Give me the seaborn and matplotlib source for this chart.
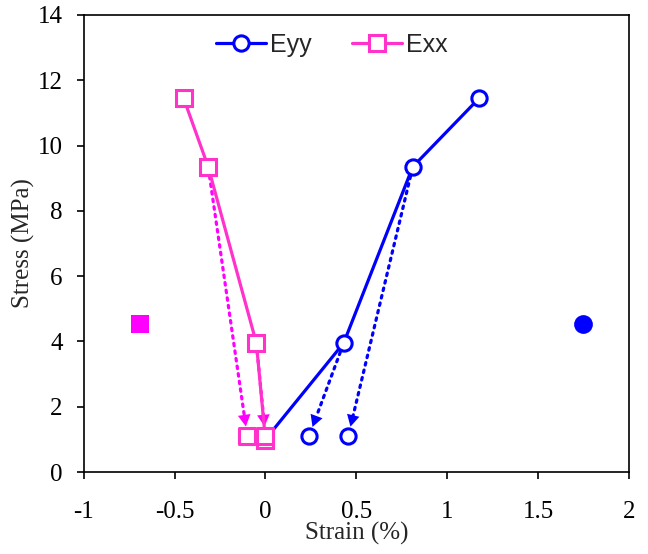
import matplotlib
matplotlib.use("Agg")
import matplotlib.pyplot as plt
import seaborn as sns
import pandas as pd

# loading paths
eyy_strain = [0.0, 0.43, 0.81, 1.175]
eyy_stress = [1.0, 3.95, 9.35, 11.45]
exx_strain = [-0.45, -0.315, -0.05, 0.0]
exx_stress = [11.45, 9.35, 3.95, 0.98]

# unloaded points (dotted arrows go from loaded point to these)
eyy_unload_strain = [0.24, 0.455]
eyy_unload_stress = [1.1, 1.1]
eyy_unload_from = [1, 2]
exx_unload_strain = [-0.10, 0.0]
exx_unload_stress = [1.1, 1.1]
exx_unload_from = [1, 2]

# single filled reference points
eyy_ref = (1.745, 4.52)
exx_ref = (-0.69, 4.52)

x_ticks = [-1, -0.5, 0, 0.5, 1, 1.5, 2]
x_labels = ["-1", "-0.5", "0", "0.5", "1", "1.5", "2"]
y_ticks = [0, 2, 4, 6, 8, 10, 12, 14]

BLUE = "#0000FF"
PINK = "#FF33CC"
MAGENTA = "#FF00FF"

sns.set_theme(style="white")
plt.rcParams["font.family"] = ["Liberation Serif", "DejaVu Serif"]

fig = plt.figure(figsize=(6.48, 5.54), dpi=100)
ax = fig.add_axes([0.129, 0.148, 0.842, 0.825])

eyy = pd.DataFrame({"strain": eyy_strain, "stress": eyy_stress})
exx = pd.DataFrame({"strain": exx_strain, "stress": exx_stress})

sns.lineplot(data=eyy, x="strain", y="stress", sort=False, ax=ax, color=BLUE,
             lw=2.3, marker="o", ms=11, mfc="white", mec=BLUE, mew=2.2,
             label="Eyy", zorder=3)
sns.lineplot(data=exx, x="strain", y="stress", sort=False, ax=ax, color=PINK,
             lw=2.3, marker="s", ms=11, mfc="white", mec=PINK, mew=2.2,
             label="Exx", zorder=4)

# dotted unloading arrows: dotted shaft + solid filled head
def unload(xs, ys, idx, sx, sy, col):
    for i, j in enumerate(idx):
        ax.annotate("", xy=(sx[i], sy[i]), xytext=(xs[j], ys[j]),
                    arrowprops=dict(arrowstyle="-", color=col, lw=2.3,
                                    ls=(0, (0.8, 1.6)), shrinkA=7, shrinkB=15),
                    zorder=2)
        ax.annotate("", xy=(sx[i], sy[i]), xytext=(xs[j], ys[j]),
                    arrowprops=dict(arrowstyle="-|>,head_length=0.7,head_width=0.38",
                                    color=col, lw=0, shrinkA=7, shrinkB=7),
                    zorder=2)

unload(eyy_strain, eyy_stress, eyy_unload_from, eyy_unload_strain, eyy_unload_stress, BLUE)
unload(exx_strain, exx_stress, exx_unload_from, exx_unload_strain, exx_unload_stress, MAGENTA)

sns.scatterplot(x=eyy_unload_strain, y=eyy_unload_stress, ax=ax, marker="o", s=120,
                facecolor="white", edgecolor=BLUE, linewidth=2.2, zorder=5)
sns.scatterplot(x=exx_unload_strain, y=exx_unload_stress, ax=ax, marker="s", s=120,
                facecolor="white", edgecolor=PINK, linewidth=2.2, zorder=6)

ax.plot(*eyy_ref, marker="o", ms=13.5, color=BLUE, mew=0, ls="none")
ax.plot(*exx_ref, marker="s", ms=13.5, color=MAGENTA, mew=0, ls="none")

ax.set_xlim(-1, 2)
ax.set_ylim(0, 14)
ax.set_xticks(x_ticks)
ax.set_xticklabels(x_labels)
ax.set_yticks(y_ticks)
ax.tick_params(axis="both", direction="out", length=5, width=1.2, labelsize=18,
               bottom=True, left=True, colors="black")
ax.tick_params(axis="x", pad=16)
ax.tick_params(axis="y", pad=10)
for s in ax.spines.values():
    s.set_color("black")
    s.set_linewidth(1.2)

ax.set_xlabel("Strain (%)", fontsize=18, labelpad=-1)
ax.set_ylabel("Stress (MPa)", fontsize=18, labelpad=2)

ax.legend(loc="center", bbox_to_anchor=(0.455, 0.935), ncol=2, frameon=False,
          prop={"family": ["Liberation Sans", "DejaVu Sans"], "size": 18},
          handlelength=2.0, handletextpad=0.15, columnspacing=1.6)

fig.savefig("out.png", dpi=100)
